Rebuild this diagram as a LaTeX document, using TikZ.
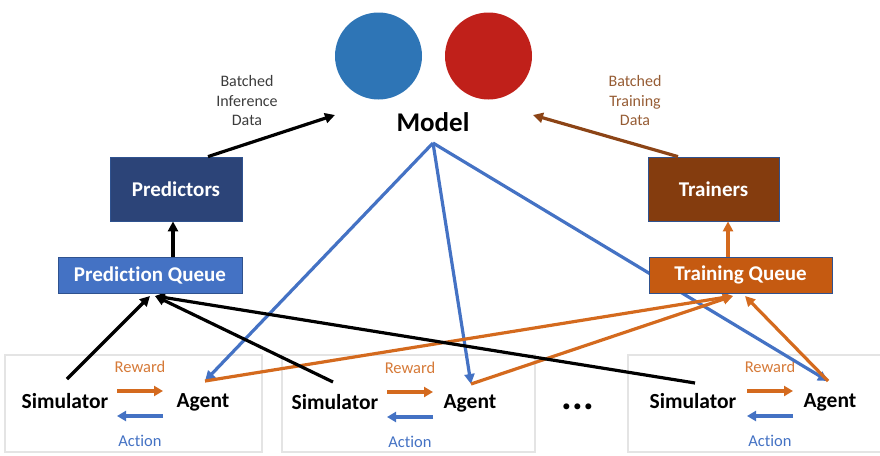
\documentclass[tikz,border=0pt]{standalone}
\usepackage{fontspec}
\setmainfont[Ligatures=NoCommon]{Carlito}
\usetikzlibrary{arrows.meta}

\definecolor{lineblue}{RGB}{68,114,196}
\definecolor{lineorange}{RGB}{212,106,30}
\definecolor{linebrown}{RGB}{140,68,22}
\definecolor{navy}{RGB}{44,68,120}
\definecolor{qblue}{RGB}{68,114,196}
\definecolor{tbrown}{RGB}{132,60,14}
\definecolor{qorange}{RGB}{197,90,17}
\definecolor{boxedge}{RGB}{47,82,143}
\definecolor{rewardtxt}{RGB}{214,122,56}
\definecolor{browntxt}{RGB}{150,92,52}
\definecolor{greytxt}{RGB}{60,60,60}
\definecolor{panelgrey}{RGB}{228,228,228}
\definecolor{ballblue}{RGB}{46,117,182}
\definecolor{ballred}{RGB}{192,32,26}

\tikzset{
  tip/.style={-{Triangle[length=10pt,width=10pt]}},
  conn/.style={line width=3.2pt, tip},
  smallarrow/.style={line width=3.4pt, -{Triangle[length=9pt,width=10pt]}},
  block/.style={draw=boxedge, line width=0.8pt, text=white, font=\bfseries\fontsize{21}{24}\selectfont,
    minimum height=36pt, inner sep=0pt},
  bigbox/.style={block, minimum height=64pt, minimum width=132pt},
  actor/.style={font=\bfseries\fontsize{21.5}{24}\selectfont, inner sep=0pt},
  note/.style={font=\fontsize{16}{19.5}\selectfont, align=center, inner sep=0pt},
  lbl/.style={font=\fontsize{16.5}{18}\selectfont, inner sep=0pt},
  panel/.style={draw=panelgrey, line width=1.2pt, fill=white},
}

\begin{document}
\begin{tikzpicture}[x=1pt, y=-1pt]
\useasboundingbox (0,0) rectangle (880,455);

% simulation panels
\draw[panel] (5,355) rectangle (262,452);
\draw[panel] (282,355) rectangle (535,452);
\draw[panel] (628,355) rectangle (890,452);

% shared model
\fill[ballblue] (378.5,56) circle (43.5);
\fill[ballred] (488.5,56) circle (43.5);
\node[font=\bfseries\fontsize{27}{30}\selectfont, inner sep=0pt] (model) at (433,122) {Model};
\coordinate (apex) at (433,143);

% simulators and agents
\node[actor] (sim1) at (65,401) {Simulator};
\node[actor] (ag1) at (203,402) {Agent};
\node[actor] (sim2) at (335,402) {Simulator};
\node[actor] (ag2) at (470,403) {Agent};
\node[actor] (sim3) at (693,401) {Simulator};
\node[actor] (ag3) at (830,402) {Agent};
\node[font=\bfseries\fontsize{40}{40}\selectfont, inner sep=0pt] (dots) at (578,407) {...};

\coordinate (s1) at (67,379);
\coordinate (s2) at (333,382);
\coordinate (s3) at (695,383);
\coordinate (a1) at (205,381);
\coordinate (a2) at (471,384);
\coordinate (a3) at (828,381);

% reward / action exchange
\foreach \i/\x/\y in {1/140/0, 2/410/1, 3/770/0} {
  \node[lbl, text=rewardtxt] (rw\i) at (\x,367+\y) {Reward};
  \node[lbl, text=lineblue] (ac\i) at (\x,441+\y) {Action};
  \coordinate (rl\i) at (\x-23,391+\y);
  \coordinate (rr\i) at (\x+23,391+\y);
  \coordinate (al\i) at (\x-23,416+\y);
  \coordinate (ar\i) at (\x+23,416+\y);
  \draw[smallarrow, lineorange] (rl\i) -- (rr\i);
  \draw[smallarrow, lineblue] (ar\i) -- (al\i);
}

% queue end points
\coordinate (pq1) at (150,296);
\coordinate (pq2) at (155,296);
\coordinate (tq1) at (733,296);
\coordinate (tq2) at (745,296);

% model broadcast to agents
\draw[conn, lineblue] (apex) -- (a1);
\draw[conn, lineblue] (apex) -- (a2);
\draw[conn, lineblue] (apex) -- (a3);

% experience to training queue
\draw[conn, lineorange] (a1) -- (tq1);
\draw[conn, lineorange] (a2) -- (tq1);
\draw[conn, lineorange] (a3) -- (tq2);

% states to prediction queue
\draw[conn, black] (s1) -- (pq1);
\draw[conn, black] (s2) -- (pq2);
\draw[conn, black] (s3) -- (pq2);

% queues and workers
\node[bigbox, fill=navy] (pred) at (176,189) {Predictors};
\node[block, fill=qblue, minimum width=184pt] (pq) at (150,275) {Prediction Queue};
\node[bigbox, fill=tbrown, minimum width=131pt] (train) at (713.5,189) {Trainers};
\node[block, fill=qorange, minimum width=183pt] (tq) at (740.5,275) {Training Queue};

\draw[conn, black] (pq.north -| 173,0) -- (pred.south -| 173,0);
\draw[conn, lineorange] (tq.north -| 728,0) -- (train.south -| 728,0);

\coordinate (infer) at (335,115);
\coordinate (trainin) at (533,115);
\draw[conn, black] (pred.north -| 208,0) -- (infer);
\draw[conn, linebrown] (train.north -| 678,0) -- (trainin);

\node[note, text=greytxt] (ntxt) at (247,101) {Batched\\Inference\\Data};
\node[note, text=browntxt] (ttxt) at (635,101) {Batched\\Training\\Data};
\end{tikzpicture}
\end{document}
